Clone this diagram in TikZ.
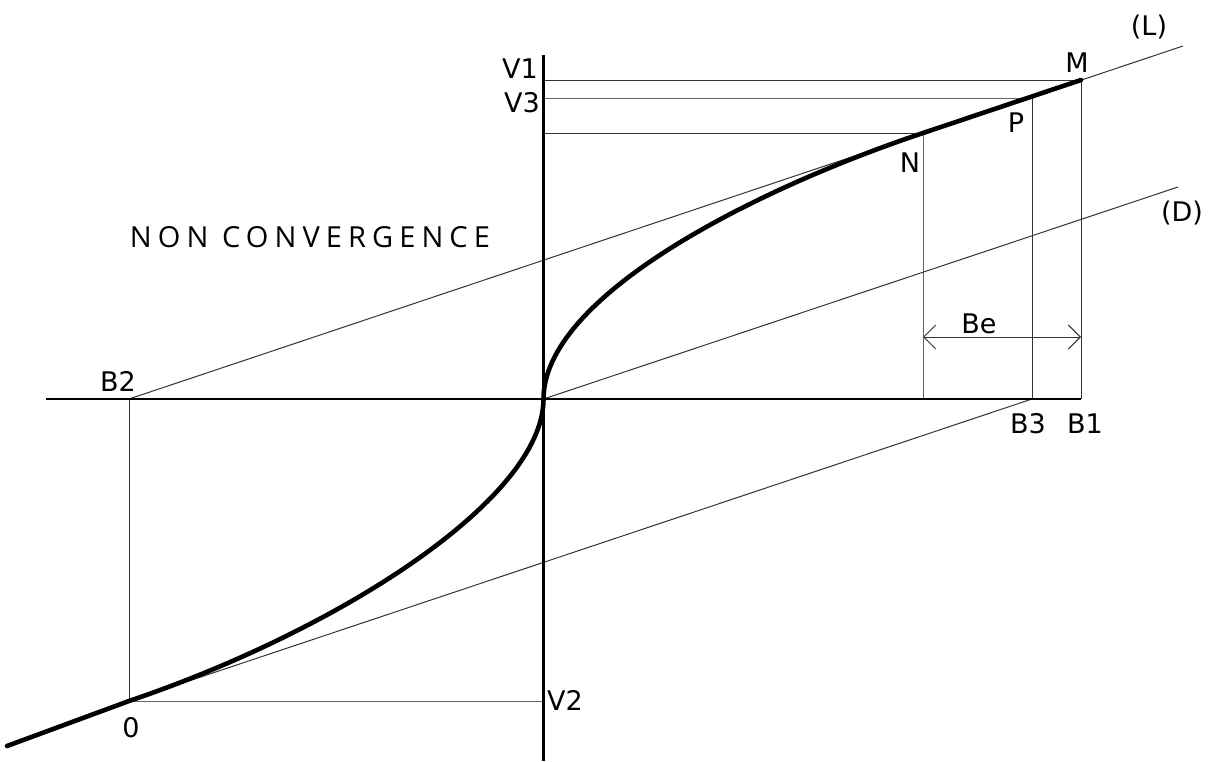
\documentclass[tikz,border=0pt]{standalone}
\usepackage{fontspec}
\setmainfont{DejaVu Sans}
\newfontfamily\ncfont{Open Sans}[LetterSpace=21]
\usetikzlibrary{arrows.meta}
\begin{document}
\begin{tikzpicture}[x=1pt,y=-1pt,
  thinline/.style={line width=1pt,black!80},
  greyline/.style={line width=1pt,black!60},
  axisline/.style={line width=2.2pt,black},
  curveline/.style={line width=4.6pt,black,line cap=round,line join=round},
  lbl/.style={font=\fontsize{27}{31}\selectfont,inner sep=0pt,anchor=base},
  barb/.style={line width=1pt,black!80,{Straight Barb[length=12pt,width=24pt]}-{Straight Barb[length=12pt,width=24pt]}}]
\useasboundingbox (0,0) rectangle (1210,761);
% coordinates
\coordinate (O) at (543.5,399);
\coordinate (HL) at (46,399);
\coordinate (B1) at (1081,399);
\coordinate (B2) at (129,399);
\coordinate (B3) at (1032,399);
\coordinate (NB) at (923,399);
\coordinate (VT) at (543.5,55);
\coordinate (VB) at (543.5,761);
\coordinate (M) at (1081,80);
\coordinate (P) at (1032,98);
\coordinate (N) at (923,133);
\coordinate (V1) at (543.5,80);
\coordinate (V3) at (543.5,98);
\coordinate (VN) at (543.5,133);
\coordinate (Z) at (129,701);
\coordinate (V2) at (543.5,701);
\coordinate (Lend) at (1183,46);
\coordinate (Dend) at (1178,187);
\coordinate (BeL) at (923,337);
\coordinate (BeR) at (1081,337);
\coordinate (CE) at (7,746);
% thin construction lines
\draw[thinline] (V1) -- (M);
\draw[greyline] (V3) -- (P);
\draw[thinline] (VN) -- (N);
\draw[greyline] (N) -- (NB);
\draw[thinline] (P) -- (B3);
\draw[thinline] (M) -- (B1);
\draw[thinline] (B2) -- (Lend);
\draw[thinline] (O) -- (Dend);
\draw[thinline] (Z) -- (B3);
\draw[thinline] (B2) -- (Z);
\draw[greyline] (Z) -- (V2);
\draw[barb] (BeL) -- (BeR);
% axes
\draw[axisline] (HL) -- (B1);
\draw[axisline] (VT) -- (VB);
% thick curve
\draw[curveline] (CE) -- (Z) .. controls (339,630) and (543.5,499) .. (O)
  .. controls (543.5,299) and (744,193) .. (N) -- (M);
% labels
\node[lbl] (tV1) at (520,78) {V1};
\node[lbl] (tV3) at (522,112) {V3};
\node[lbl] (tM) at (1077,72) {M};
\node[lbl] (tP) at (1016,132) {P};
\node[lbl] (tN) at (910,172) {N};
\node[lbl] (tL) at (1149,35) {(L)};
\node[lbl] (tD) at (1182,221) {(D)};
\node[lbl] (tBe) at (979,333) {Be};
\node[lbl] (tB3) at (1028,433) {B3};
\node[lbl] (tB1) at (1085,433) {B1};
\node[lbl] (tB2) at (118,391) {B2};
\node[lbl] (tZ) at (131,737) {0};
\node[lbl] (tV2) at (565,710) {V2};
\node[inner sep=0pt,anchor=base,font=\ncfont\fontsize{29}{34}\selectfont] (tNC) at (310,247) {NON CONVERGENCE};
\end{tikzpicture}
\end{document}
